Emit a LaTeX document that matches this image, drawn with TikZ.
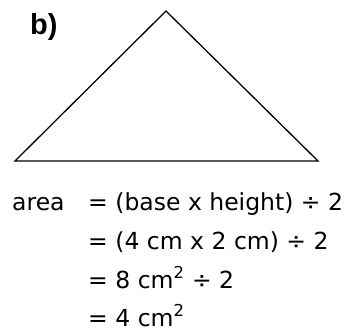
\documentclass[tikz,border=0pt]{standalone}
\usepackage{fontspec}
\usetikzlibrary{arrows.meta, positioning}
\newfontfamily\eqfont{DejaVu Sans}
\newfontfamily\tagfont{Liberation Sans}
\newcommand{\sqr}{\textsuperscript{2}}
\tikzset{
    >=Stealth,
    % Text
    eqn/.style={anchor=base west, inner sep=0pt, font=\fontsize{23.5}{28}\eqfont},
    tag/.style={anchor=base west, inner sep=0pt, font=\fontsize{29}{34}\tagfont\bfseries},
    % Lines
    edge/.style={line width=1.3pt, line join=miter}
}

\begin{document}
\begin{tikzpicture}[x=1pt, y=1pt]
\useasboundingbox (0,0) rectangle (345,333);

\node[tag] (lbl) at (30,299) {b)};

\coordinate (apex) at (166,322);
\coordinate (left) at (15,172);
\coordinate (right) at (318,172);
\draw[edge] (left) -- (apex) -- (right) -- cycle;

\node[eqn] (area) at (12,123) {area};
\node[eqn] (eq1) at (88,123) {= (base x height) ÷ 2};
\node[eqn] (eq2) at (88,84) {= (4 cm x 2 cm) ÷ 2};
\node[eqn] (eq3) at (88,45) {= 8 cm\sqr{} ÷ 2};
\node[eqn] (eq4) at (88,7) {= 4 cm\sqr};

\end{tikzpicture}
\end{document}
